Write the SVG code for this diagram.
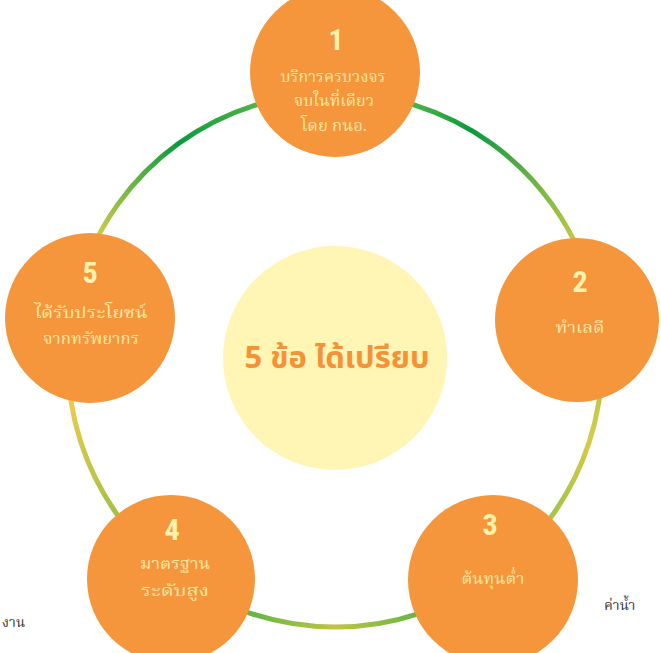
<svg xmlns="http://www.w3.org/2000/svg" width="661" height="653" viewBox="0 0 661 653">
<defs>
<style>
.node{fill:#F5963D}
.num{font-family:"Liberation Sans Narrow","Roboto Condensed","Liberation Sans",sans-serif;font-weight:bold;font-size:30px;fill:#FFF2AE;text-anchor:middle}
.lbl{font-family:"Noto Serif Thai","Noto Sans Thai Looped","Noto Sans Thai","Noto Sans",sans-serif;font-size:16px;fill:#FCE7A2;text-anchor:middle}
.ring{fill:none;stroke-width:5;stroke-linecap:round}
.stray{font-family:"Noto Serif Thai","Noto Sans Thai","Liberation Serif",serif;font-size:14px;fill:#3A3A3A}
</style>
<linearGradient id="g51" gradientUnits="userSpaceOnUse" x1="81" y1="277" x2="335" y2="93">
<stop offset="0.13" stop-color="#C8CB4A"/><stop offset="0.5" stop-color="#0A9A3E"/><stop offset="0.8" stop-color="#55B548"/>
</linearGradient>
<linearGradient id="g12" gradientUnits="userSpaceOnUse" x1="335" y1="93" x2="589" y2="277">
<stop offset="0.22" stop-color="#4CB448"/><stop offset="0.42" stop-color="#0A9A3E"/><stop offset="0.88" stop-color="#B8C848"/>
</linearGradient>
<linearGradient id="g23" gradientUnits="userSpaceOnUse" x1="600" y1="400" x2="560" y2="510">
<stop offset="0" stop-color="#C0CA48"/><stop offset="0.35" stop-color="#D8C94A"/><stop offset="1" stop-color="#A9C447"/>
</linearGradient>
<linearGradient id="g34" gradientUnits="userSpaceOnUse" x1="420" y1="0" x2="250" y2="0">
<stop offset="0" stop-color="#62B646"/><stop offset="0.5" stop-color="#C0C443"/><stop offset="1" stop-color="#62B646"/>
</linearGradient>
<linearGradient id="g45" gradientUnits="userSpaceOnUse" x1="115" y1="510" x2="72" y2="403">
<stop offset="0" stop-color="#A8C048"/><stop offset="1" stop-color="#EACB4C"/>
</linearGradient>
</defs>
<rect width="661" height="653" fill="#FFFFFF"/>
<g id="connectors">
<path class="ring" stroke="url(#g51)" d="M81,277 A267,267 0 0 1 335,93"/>
<path class="ring" stroke="url(#g12)" d="M335,93 A267,267 0 0 1 589,277"/>
<path class="ring" stroke="url(#g23)" d="M589,277 A267,267 0 0 1 492,576"/>
<path class="ring" stroke="url(#g34)" d="M492,576 A267,267 0 0 1 178,576"/>
<path class="ring" stroke="url(#g45)" d="M178,576 A267,267 0 0 1 81,277"/>
</g>
<g id="center">
<circle cx="335" cy="358" r="112" fill="#FFF5B5"/>
<text x="337" y="368" text-anchor="middle" font-family="Noto Sans Thai,Noto Sans,sans-serif" font-weight="bold" font-size="30" fill="#F39237" textLength="185" lengthAdjust="spacingAndGlyphs">5 ข้อ ได้เปรียบ</text>
</g>
<g id="node1">
<circle class="node" cx="335" cy="72" r="85"/>
<text class="num" x="336" y="50">1</text>
<text class="lbl" x="333" y="82" textLength="105" lengthAdjust="spacingAndGlyphs">บริการครบวงจร</text>
<text class="lbl" x="334" y="106" textLength="80" lengthAdjust="spacingAndGlyphs">จบในที่เดียว</text>
<text class="lbl" x="334" y="131" textLength="66" lengthAdjust="spacingAndGlyphs">โดย กนอ.</text>
</g>
<g id="node2">
<circle class="node" cx="577" cy="320" r="82"/>
<text class="num" x="580" y="292">2</text>
<text class="lbl" x="580" y="333" textLength="49" lengthAdjust="spacingAndGlyphs">ทำเลดี</text>
</g>
<g id="node3">
<circle class="node" cx="493" cy="580" r="85"/>
<text class="num" x="490" y="535">3</text>
<text class="lbl" x="493" y="584" textLength="63" lengthAdjust="spacingAndGlyphs">ต้นทุนต่ำ</text>
</g>
<g id="node4">
<circle class="node" cx="171" cy="579" r="84"/>
<text class="num" x="172" y="540">4</text>
<text class="lbl" x="175" y="569" font-size="14.5" textLength="70" lengthAdjust="spacingAndGlyphs">มาตรฐาน</text>
<text class="lbl" x="175" y="596" font-size="14.5" textLength="68" lengthAdjust="spacingAndGlyphs">ระดับสูง</text>
</g>
<g id="node5">
<circle class="node" cx="90" cy="318" r="85"/>
<text class="num" x="90" y="283">5</text>
<text class="lbl" x="91" y="318" textLength="113" lengthAdjust="spacingAndGlyphs">ได้รับประโยชน์</text>
<text class="lbl" x="91" y="344" textLength="96" lengthAdjust="spacingAndGlyphs">จากทรัพยากร</text>
</g>
<text class="stray" x="2" y="627">งาน</text>
<text class="stray" x="604" y="610">ค่าน้ำ</text>
</svg>
